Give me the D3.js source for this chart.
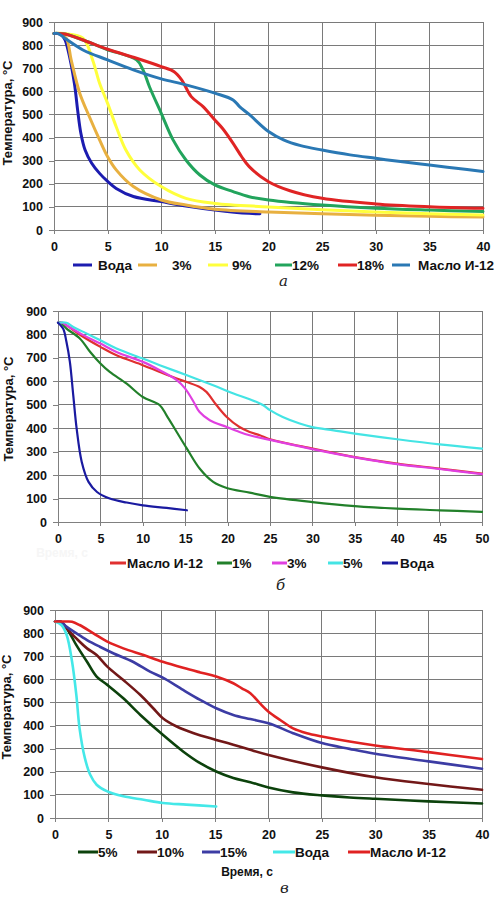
<!DOCTYPE html>
<html><head><meta charset="utf-8">
<script src="https://cdn.jsdelivr.net/npm/d3@7"></script>
<style>body{margin:0;background:#fff}svg{display:block}</style>
</head><body>
<svg id="c" width="501" height="910"></svg>
<script>
// ---------- Panel а ----------
const aVoda = [[0,850],[0.6,848],[1,825],[1.3,780],[1.9,635],[2.2,520],[2.5,420],[2.9,346],[3.5,290],[4.25,245],[5,210],[5.8,180],[7.4,145],[10,123],[12.3,104],[15,87],[18.2,72],[19.2,70]];
const a3 = [[0,850],[0.6,850],[1.15,830],[1.6,736],[2.4,592],[3.3,490],[4.25,390],[5,317],[5.8,260],[7.4,188],[10,130],[12.3,108],[15,90],[20,78],[25,70],[30,64],[35,59],[40,56]];
const a9 = [[0,850],[1,850],[2.7,830],[3.6,736],[4.25,635],[5,548],[5.8,447],[6.7,346],[8,260],[10,188],[12.3,137],[15,115],[20,100],[25,88],[30,78],[35,70],[40,65]];
const a12 = [[0,850],[1,848],[2.7,822],[4.25,794],[5,780],[7.7,736],[8.3,693],[8.9,620],[10,505],[11.1,390],[12.3,303],[13.6,238],[15,195],[16.7,166],[18.2,144],[20,130],[25,108],[30,94],[35,86],[40,80]];
const a18 = [[0,850],[1,848],[2.7,822],[5,782],[7.7,743],[10,707],[11.2,685],[11.9,650],[12.8,577],[13.9,534],[15,476],[15.7,440],[16.7,375],[17.5,317],[18.2,274],[20,209],[22,170],[25,137],[30,113],[35,101],[40,94]];
const aOil = [[0,850],[0.4,850],[1,830],[2.7,779],[5,736],[7.4,693],[10,654],[12.3,628],[15,592],[16.7,563],[17.3,534],[18.2,500],[20,426],[21.4,390],[23,365],[25,346],[27.6,325],[30,310],[32.3,296],[35,281],[37.5,267],[40,253]];
const aNames = ["Вода","3%","9%","12%","18%","Масло И-12"];
const aColors = ["#1c1cb0","#e8b040","#ffff3c","#22a45c","#e02424","#2a78b4"];
const aXTicks = [0,5,10,15,20,25,30,35,40];
const yTicks = [0,100,200,300,400,500,600,700,800,900];

// ---------- Panel б ----------
const bOil = [[0,850],[0.5,850],[1,839],[3,789],[5,747],[6.9,711],[10,669],[12,640],[14,612],[15.2,597],[16.7,576],[17.5,555],[18.7,498],[19.9,448],[21.4,405],[22.6,384],[23.8,370],[25,353],[30,313],[35,277],[40,249],[45,228],[50,206]];
const b1 = [[0,850],[0.3,850],[1,825],[2.6,782],[3.8,725],[5,676],[6.1,640],[8.1,590],[10,533],[12,498],[12.8,455],[14,384],[15.2,313],[16.7,228],[18.3,171],[19.9,145],[22.6,125],[25,107],[30,85],[35,68],[40,57],[45,50],[50,43]];
const b3 = [[0,850],[0.5,850],[1,839],[3,797],[5,761],[6.9,725],[10,683],[12,647],[14,605],[15,569],[16,512],[16.7,469],[17.9,434],[19.9,405],[21.4,384],[22.6,370],[25,350],[30,311],[35,276],[40,247],[45,226],[50,204]];
const b5 = [[0,850],[1,850],[1.8,832],[3,811],[5,775],[6.9,740],[10,697],[12,669],[15.2,626],[18.3,583],[20.7,548],[22.6,524],[24.2,498],[25,477],[26.5,448],[28.5,420],[30,405],[32.5,391],[35,377],[40,353],[45,331],[50,313]];
const bVoda = [[0,850],[0.6,825],[1,768],[1.4,683],[1.8,540],[2.2,398],[2.8,256],[3.6,171],[4.6,128],[6.1,100],[8.1,83],[10,71],[12.8,60],[15.2,50]];
const bNames = ["Масло И-12","1%","3%","5%","Вода"];
const bColors = ["#e03030","#22802a","#e040e0","#44e4e4","#1a1aa0"];
const bXTicks = [0,5,10,15,20,25,30,35,40,45,50];

// ---------- Panel в ----------
const c5 = [[0,850],[0.5,850],[1.1,820],[2,748],[3,676],[3.9,612],[4.9,576],[6.4,518],[8,446],[10.1,360],[12,288],[13.6,237],[15.1,201],[16.7,173],[18.3,155],[20,132],[22.3,111],[25,98],[27.6,89],[30,83],[35,72],[40,63]];
const c10 = [[0,850],[0.5,850],[1.1,820],[2,777],[3,734],[3.9,705],[4.9,655],[6.4,597],[8,532],[9.2,475],[10.1,432],[11.4,396],[13,367],[15.1,338],[16.7,317],[18.3,295],[20,273],[25,219],[30,176],[35,147],[40,122]];
const c15 = [[0,850],[0.5,850],[1.1,827],[2,799],[3,770],[4.2,741],[5.5,712],[7.3,676],[8.9,633],[10.1,607],[12,554],[13.6,511],[15.1,475],[16.7,446],[18.3,428],[20,410],[22.3,367],[25,324],[27.6,299],[30,278],[35,245],[40,213]];
const cVoda = [[0,850],[0.6,835],[1.1,791],[1.6,676],[2,532],[2.3,388],[2.8,259],[3.3,187],[3.9,144],[4.9,115],[6.4,94],[8.3,79],[10.1,65],[12.3,58],[15.1,50]];
const cOil = [[0,850],[1,850],[1.6,849],[2.3,835],[3.6,799],[4.9,763],[6.4,734],[8.3,705],[10.1,676],[12,650],[13.6,630],[15.1,612],[16.7,583],[17.5,561],[18.3,540],[19.2,496],[20,460],[21.1,424],[22.3,388],[23.6,367],[25,353],[27.6,331],[30,314],[35,285],[40,255]];
const cNames = ["5%","10%","15%","Вода","Масло И-12"];
const cColors = ["#0c420c","#721818","#3c3ca4","#44e8e8","#e02222"];
const cXTicks = [0,5,10,15,20,25,30,35,40];

const svg = d3.select("#c");
const FONT = "Liberation Sans, Arial, sans-serif";

function panel(o){
  const x = d3.scaleLinear().domain([0,o.xmax]).range([o.x0,o.x1]);
  const y = d3.scaleLinear().domain([0,900]).range([o.y0,o.y1]);
  const g = svg.append("g");
  g.selectAll(".gx").data(o.xticks.slice(1)).enter().append("line")
    .attr("x1",d=>x(d)).attr("x2",d=>x(d)).attr("y1",o.y0).attr("y2",o.y1)
    .attr("stroke","#7a7a7a").attr("stroke-width",1).attr("shape-rendering","crispEdges");
  g.selectAll(".gy").data(yTicks.slice(1)).enter().append("line")
    .attr("x1",o.x0).attr("x2",o.x1).attr("y1",d=>y(d)).attr("y2",d=>y(d))
    .attr("stroke","#7a7a7a").attr("stroke-width",1).attr("shape-rendering","crispEdges");
  const ax = g.append("g").attr("transform",`translate(0,${o.y0})`)
    .call(d3.axisBottom(x).tickValues(o.xticks).tickSize(4).tickPadding(o.xpad));
  const ay = g.append("g").attr("transform",`translate(${o.x0},0)`)
    .call(d3.axisLeft(y).tickValues(yTicks).tickSize(5).tickPadding(o.ypad));
  [ax,ay].forEach(a=>{
    a.select(".domain").attr("stroke","#808080").attr("shape-rendering","crispEdges");
    a.selectAll(".tick line").attr("stroke","#808080").attr("shape-rendering","crispEdges");
    a.selectAll("text").attr("font-family",FONT).attr("font-weight","bold")
      .attr("font-size",o.tickFs).attr("fill","#111");
  });
  const line = d3.line().x(d=>x(d[0])).y(d=>y(d[1])).curve(d3.curveCatmullRom.alpha(0.5));
  o.series.forEach((s,i)=>{
    g.append("path").datum(s).attr("d",line).attr("fill","none")
      .attr("stroke",o.colors[i]).attr("stroke-width",o.lw)
      .attr("stroke-linejoin","round").attr("stroke-linecap","round");
  });
  g.append("text").attr("transform",`translate(${o.tx},${o.ty}) rotate(-90)`)
    .attr("text-anchor","middle").attr("font-family",FONT).attr("font-weight","bold")
    .attr("font-size",13).attr("fill","#111").text("Температура, °С");
  o.legend.forEach((L,i)=>{
    g.append("line").attr("x1",L[0]).attr("x2",L[1]).attr("y1",o.ly).attr("y2",o.ly)
      .attr("stroke",o.colors[i]).attr("stroke-width",3);
    g.append("text").attr("x",L[2]).attr("y",o.ly+5).attr("font-family",FONT)
      .attr("font-weight","bold").attr("font-size",13.5).attr("fill","#111").text(o.names[i]);
  });
  g.append("text").attr("x",o.cx).attr("y",o.cy).attr("font-family","DejaVu Serif, serif")
    .attr("font-style","italic").attr("font-size",15).attr("fill","#222").text(o.cap);
  return g;
}

panel({x0:54,x1:483,y0:230,y1:22,xmax:40,xticks:aXTicks,xpad:8,ypad:6,tickFs:12.5,
  series:[aVoda,a3,a9,a12,a18,aOil],colors:aColors,names:aNames,lw:3,
  tx:12,ty:113,ly:265,
  legend:[[73,92,98],[138,157,172],[208,228,232],[275,292,292],[338,357,357],[392,410,418]],
  cx:279,cy:286,cap:"а"});

panel({x0:58,x1:482,y0:522,y1:311,xmax:50,xticks:bXTicks,xpad:8,ypad:6,tickFs:12.5,
  series:[bOil,b1,b3,b5,bVoda],colors:bColors,names:bNames,lw:2.2,
  tx:13,ty:409,ly:563,
  legend:[[110,126,127],[217,232,232],[272,287,287],[328,343,343],[382,398,400]],
  cx:276,cy:590,cap:"б"});

panel({x0:55,x1:482,y0:818,y1:610,xmax:40,xticks:cXTicks,xpad:8,ypad:6,tickFs:12.5,
  series:[c5,c10,c15,cVoda,cOil],colors:cColors,names:cNames,lw:2.6,
  tx:11,ty:707,ly:852,
  legend:[[78,98,98],[137,157,157],[202,220,220],[273,295,295],[348,370,370]],
  cx:280,cy:893,cap:"в"});

svg.append("text").attr("x",62).attr("y",557).attr("text-anchor","middle")
  .attr("font-family",FONT).attr("font-weight","bold").attr("font-size",12)
  .attr("fill","#f6f6f6").text("Время, с");
svg.append("text").attr("x",247).attr("y",876).attr("text-anchor","middle")
  .attr("font-family",FONT).attr("font-weight","bold").attr("font-size",12)
  .attr("fill","#111").text("Время, с");
</script>
</body></html>
